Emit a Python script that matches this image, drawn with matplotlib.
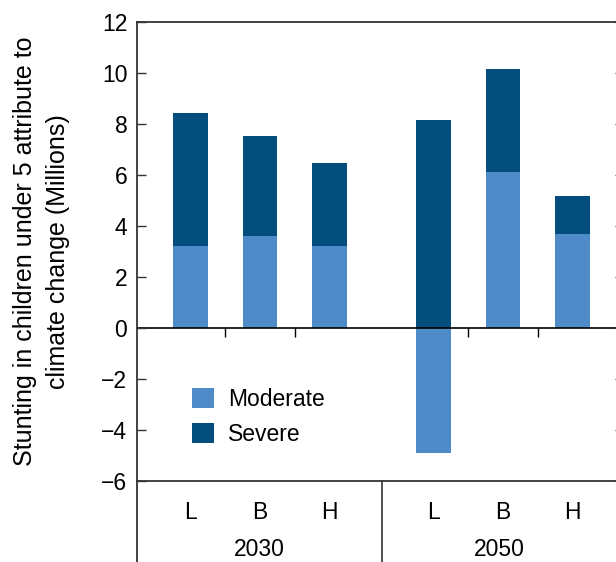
import matplotlib.pyplot as plt
import numpy as np

plt.rcParams['font.family'] = ['Liberation Sans', 'DejaVu Sans']

# Stunting attributable to climate change (millions), by scenario
years = ['2030', '2050']
scenarios = ['L', 'B', 'H']
moderate = [3.22, 3.62, 3.22, -4.90, 6.13, 3.68]
totals = [8.44, 7.54, 6.48, 8.17, 10.15, 5.19]
# severe sits on top of moderate, except where moderate is negative
severe = [t - m if m > 0 else t for t, m in zip(totals, moderate)]
severe_base = [m if m > 0 else 0 for m in moderate]

col_mod = '#4F8AC9'
col_sev = '#044E7E'
fs = 16.5

xpos = np.array([0, 1, 2, 3.5, 4.5, 5.5])

fig = plt.figure(figsize=(6.16, 5.62), dpi=100)
ax = fig.add_axes([137 / 616, (562 - 480.7) / 562, (624 - 137) / 616, (480.7 - 22) / 562])

ax.bar(xpos, moderate, width=0.5, color=col_mod, label='Moderate')
ax.bar(xpos, severe, width=0.5, bottom=severe_base, color=col_sev, label='Severe')

ax.set_xlim(-0.77, 6.24)
ax.set_ylim(-6, 12)
ax.set_yticks(np.arange(-6, 13, 2))
ax.set_yticklabels([str(v).replace('-', '\u2212') for v in range(-6, 13, 2)])
ax.set_xticks([])
ax.tick_params(axis='y', direction='in', length=6.5, width=1, labelsize=fs, pad=7,
               right=True, color='#333333')

for side in ['left', 'top', 'bottom', 'right']:
    ax.spines[side].set_color('#333333')
    ax.spines[side].set_linewidth(1.3)

# zero line with small separators between the bars
ax.axhline(0, color='black', lw=1.2, zorder=1)
ax.vlines([0.5, 1.5, 4, 5], -0.35, 0, color='black', lw=1)

ax.set_ylabel('Stunting in children under 5 attribute to\nclimate change (Millions)',
              fontsize=18, linespacing=1.45)
ax.yaxis.set_label_coords(-0.1385, 0.5)

# two-level category labels under the axis
tr = ax.get_xaxis_transform()
for x, lab in zip(xpos, scenarios * 2):
    ax.text(x, -0.07, lab, transform=tr, ha='center', va='center', fontsize=fs)
ax.text(0.99, -0.149, years[0], transform=tr, ha='center', va='center', fontsize=fs)
ax.text(4.45, -0.149, years[1], transform=tr, ha='center', va='center', fontsize=fs)
ax.plot([2.75, 2.75], [0, -0.2], transform=tr, color='#333333', lw=1.2, clip_on=False)
ax.plot([-0.77, -0.77], [0, -0.2], transform=tr, color='#333333', lw=1.3, clip_on=False)

ax.legend(loc='upper left', bbox_to_anchor=(0.112, 0.203), frameon=False, fontsize=fs,
          handlelength=0.96, handleheight=0.96, handletextpad=0.65, labelspacing=0.55,
          borderpad=0, borderaxespad=0)

fig.savefig('out.png', dpi=100)
